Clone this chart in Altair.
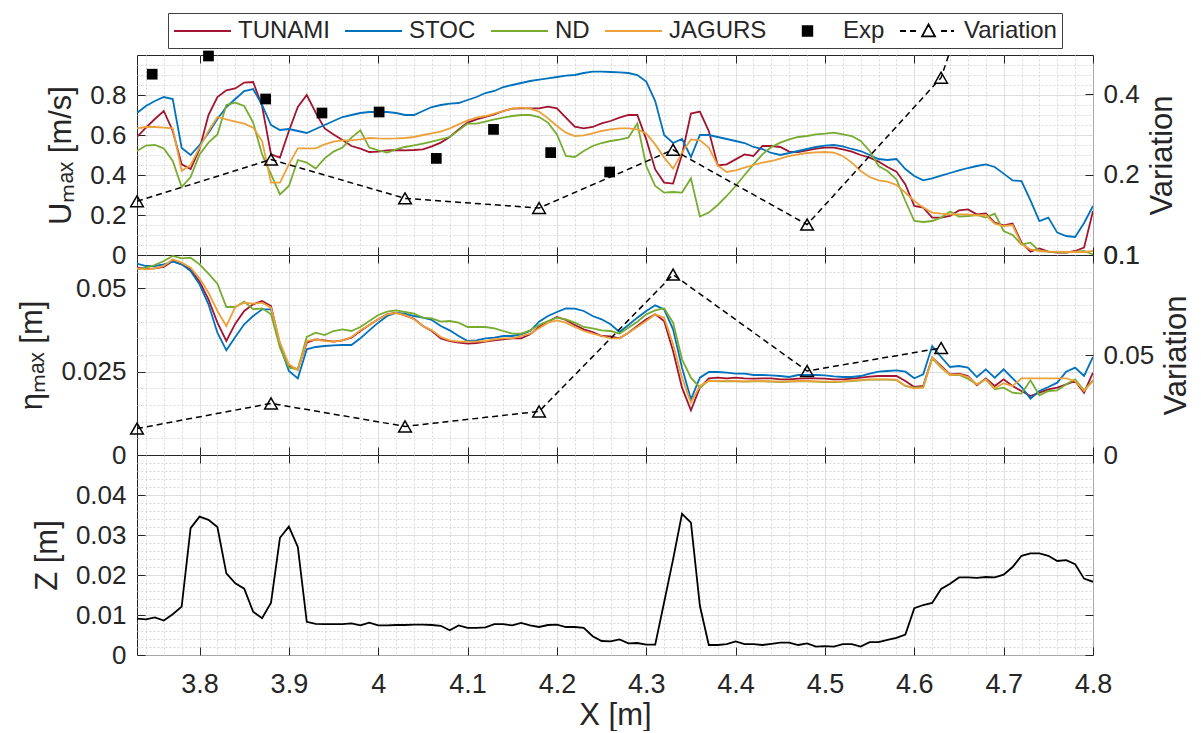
import altair as alt
import pandas as pd

# ---------------- data ----------------
X = [round(3.73 + 0.01 * i, 2) for i in range(108)]
SERIES = ["TUNAMI", "STOC", "ND", "JAGURS"]
COLORS = ["#A2142F", "#0072BD", "#77AC30", "#EDA13A"]

U_TUNAMI = [
    0.590, 0.637, 0.680, 0.720, 0.620, 0.453, 0.430, 0.530, 0.700, 0.790,
    0.823, 0.833, 0.862, 0.865, 0.745, 0.503, 0.487, 0.620, 0.740, 0.800,
    0.712, 0.633, 0.603, 0.575, 0.545, 0.532, 0.515, 0.517, 0.523, 0.525,
    0.523, 0.525, 0.528, 0.543, 0.562, 0.590, 0.628, 0.662, 0.678, 0.690,
    0.703, 0.720, 0.732, 0.733, 0.733, 0.733, 0.742, 0.733, 0.687, 0.642,
    0.633, 0.640, 0.658, 0.670, 0.687, 0.700, 0.700, 0.578, 0.428, 0.362,
    0.357, 0.503, 0.707, 0.717, 0.620, 0.448, 0.453, 0.478, 0.503, 0.495,
    0.545, 0.545, 0.540, 0.517, 0.515, 0.523, 0.532, 0.537, 0.537, 0.528,
    0.517, 0.500, 0.487, 0.467, 0.440, 0.417, 0.353, 0.245, 0.237, 0.187,
    0.187, 0.195, 0.223, 0.228, 0.203, 0.208, 0.162, 0.148, 0.157, 0.062,
    0.017, 0.033, 0.017, 0.012, 0.012, 0.020, 0.037, 0.220]
U_STOC = [
    0.710, 0.745, 0.770, 0.790, 0.780, 0.535, 0.500, 0.550, 0.610, 0.680,
    0.740, 0.780, 0.820, 0.830, 0.750, 0.650, 0.625, 0.630, 0.620, 0.610,
    0.630, 0.650, 0.670, 0.690, 0.700, 0.710, 0.715, 0.715, 0.715, 0.710,
    0.700, 0.700, 0.720, 0.740, 0.750, 0.757, 0.760, 0.775, 0.790, 0.810,
    0.820, 0.840, 0.850, 0.860, 0.870, 0.877, 0.883, 0.890, 0.897, 0.900,
    0.910, 0.917, 0.917, 0.915, 0.913, 0.910, 0.900, 0.867, 0.770, 0.600,
    0.560, 0.580, 0.490, 0.600, 0.600, 0.590, 0.580, 0.570, 0.560, 0.540,
    0.530, 0.510, 0.500, 0.510, 0.520, 0.530, 0.540, 0.547, 0.550, 0.543,
    0.530, 0.520, 0.500, 0.480, 0.475, 0.480, 0.430, 0.395, 0.373, 0.383,
    0.397, 0.410, 0.423, 0.435, 0.445, 0.453, 0.440, 0.407, 0.373, 0.370,
    0.273, 0.170, 0.187, 0.112, 0.095, 0.090, 0.160, 0.245]
U_ND = [
    0.520, 0.547, 0.550, 0.533, 0.470, 0.340, 0.390, 0.503, 0.562, 0.603,
    0.750, 0.762, 0.745, 0.662, 0.503, 0.403, 0.303, 0.345, 0.475, 0.462,
    0.432, 0.483, 0.517, 0.537, 0.587, 0.623, 0.537, 0.523, 0.512, 0.528,
    0.540, 0.548, 0.557, 0.567, 0.578, 0.590, 0.623, 0.657, 0.657, 0.667,
    0.678, 0.687, 0.695, 0.700, 0.700, 0.690, 0.662, 0.603, 0.495, 0.490,
    0.520, 0.545, 0.560, 0.570, 0.577, 0.587, 0.657, 0.445, 0.345, 0.312,
    0.315, 0.312, 0.383, 0.192, 0.212, 0.250, 0.295, 0.345, 0.400, 0.453,
    0.503, 0.540, 0.562, 0.578, 0.590, 0.595, 0.603, 0.607, 0.612, 0.603,
    0.595, 0.570, 0.520, 0.445, 0.420, 0.378, 0.270, 0.170, 0.165, 0.170,
    0.187, 0.217, 0.192, 0.195, 0.200, 0.187, 0.207, 0.120, 0.100, 0.053,
    0.062, 0.020, 0.017, 0.015, 0.012, 0.017, 0.020, 0.003]
U_JAGURS = [
    0.633, 0.640, 0.640, 0.637, 0.633, 0.420, 0.450, 0.537, 0.620, 0.690,
    0.678, 0.667, 0.657, 0.637, 0.570, 0.362, 0.362, 0.453, 0.533, 0.533,
    0.533, 0.553, 0.567, 0.573, 0.573, 0.578, 0.585, 0.583, 0.582, 0.583,
    0.585, 0.590, 0.600, 0.608, 0.617, 0.633, 0.653, 0.673, 0.687, 0.695,
    0.707, 0.720, 0.732, 0.737, 0.732, 0.717, 0.683, 0.645, 0.612, 0.595,
    0.598, 0.608, 0.620, 0.628, 0.633, 0.633, 0.628, 0.607, 0.553, 0.487,
    0.432, 0.512, 0.578, 0.573, 0.537, 0.448, 0.415, 0.423, 0.437, 0.450,
    0.462, 0.470, 0.482, 0.495, 0.503, 0.510, 0.513, 0.515, 0.512, 0.495,
    0.462, 0.420, 0.390, 0.373, 0.367, 0.350, 0.312, 0.270, 0.237, 0.212,
    0.207, 0.203, 0.203, 0.203, 0.198, 0.200, 0.157, 0.145, 0.150, 0.053,
    0.028, 0.020, 0.017, 0.017, 0.015, 0.015, 0.015, 0.020]

E_TUNAMI = [
    0.0562, 0.0559, 0.0560, 0.0564, 0.0582, 0.0572, 0.0557, 0.0520, 0.0467, 0.0397,
    0.0342, 0.0394, 0.0432, 0.0452, 0.0462, 0.0447, 0.0332, 0.0267, 0.0257, 0.0337,
    0.0347, 0.0344, 0.0340, 0.0344, 0.0352, 0.0372, 0.0390, 0.0407, 0.0422, 0.0427,
    0.0419, 0.0409, 0.0387, 0.0372, 0.0350, 0.0342, 0.0337, 0.0334, 0.0336, 0.0340,
    0.0344, 0.0347, 0.0350, 0.0350, 0.0362, 0.0384, 0.0400, 0.0414, 0.0405, 0.0390,
    0.0377, 0.0369, 0.0357, 0.0356, 0.0350, 0.0367, 0.0387, 0.0407, 0.0422, 0.0402,
    0.0312, 0.0202, 0.0134, 0.0202, 0.0230, 0.0232, 0.0230, 0.0232, 0.0230, 0.0229,
    0.0230, 0.0230, 0.0227, 0.0227, 0.0229, 0.0230, 0.0230, 0.0229, 0.0227, 0.0227,
    0.0229, 0.0232, 0.0235, 0.0237, 0.0237, 0.0237, 0.0222, 0.0204, 0.0207, 0.0292,
    0.0267, 0.0242, 0.0244, 0.0237, 0.0209, 0.0230, 0.0207, 0.0227, 0.0207, 0.0192,
    0.0177, 0.0187, 0.0197, 0.0202, 0.0212, 0.0222, 0.0187, 0.0247]
E_STOC = [
    0.0574, 0.0567, 0.0567, 0.0572, 0.0580, 0.0572, 0.0552, 0.0512, 0.0452, 0.0367,
    0.0314, 0.0354, 0.0392, 0.0417, 0.0437, 0.0437, 0.0327, 0.0252, 0.0230, 0.0317,
    0.0324, 0.0327, 0.0329, 0.0330, 0.0330, 0.0350, 0.0374, 0.0397, 0.0417, 0.0426,
    0.0424, 0.0417, 0.0412, 0.0405, 0.0387, 0.0374, 0.0357, 0.0342, 0.0344, 0.0350,
    0.0352, 0.0357, 0.0357, 0.0362, 0.0372, 0.0400, 0.0417, 0.0429, 0.0440, 0.0439,
    0.0432, 0.0417, 0.0407, 0.0392, 0.0369, 0.0390, 0.0412, 0.0432, 0.0449, 0.0437,
    0.0377, 0.0262, 0.0167, 0.0232, 0.0249, 0.0249, 0.0247, 0.0244, 0.0244, 0.0240,
    0.0240, 0.0239, 0.0237, 0.0234, 0.0240, 0.0240, 0.0240, 0.0239, 0.0236, 0.0234,
    0.0234, 0.0237, 0.0244, 0.0250, 0.0252, 0.0254, 0.0250, 0.0230, 0.0242, 0.0327,
    0.0294, 0.0264, 0.0267, 0.0262, 0.0234, 0.0257, 0.0232, 0.0257, 0.0230, 0.0204,
    0.0169, 0.0192, 0.0204, 0.0217, 0.0250, 0.0262, 0.0237, 0.0294]
E_ND = [
    0.0557, 0.0562, 0.0570, 0.0582, 0.0597, 0.0590, 0.0592, 0.0572, 0.0544, 0.0514,
    0.0444, 0.0444, 0.0460, 0.0437, 0.0440, 0.0422, 0.0322, 0.0262, 0.0257, 0.0354,
    0.0367, 0.0360, 0.0372, 0.0377, 0.0372, 0.0384, 0.0402, 0.0420, 0.0430, 0.0434,
    0.0429, 0.0424, 0.0412, 0.0410, 0.0400, 0.0402, 0.0397, 0.0384, 0.0384, 0.0384,
    0.0380, 0.0372, 0.0364, 0.0364, 0.0374, 0.0390, 0.0402, 0.0412, 0.0407, 0.0397,
    0.0384, 0.0380, 0.0374, 0.0372, 0.0364, 0.0382, 0.0400, 0.0422, 0.0434, 0.0440,
    0.0397, 0.0287, 0.0232, 0.0202, 0.0224, 0.0221, 0.0222, 0.0221, 0.0220, 0.0221,
    0.0221, 0.0220, 0.0219, 0.0220, 0.0221, 0.0221, 0.0220, 0.0219, 0.0219, 0.0220,
    0.0222, 0.0224, 0.0226, 0.0226, 0.0226, 0.0225, 0.0207, 0.0202, 0.0204, 0.0290,
    0.0262, 0.0240, 0.0240, 0.0229, 0.0212, 0.0227, 0.0197, 0.0202, 0.0187, 0.0184,
    0.0224, 0.0179, 0.0192, 0.0194, 0.0212, 0.0227, 0.0194, 0.0224]
E_JAGURS = [
    0.0560, 0.0557, 0.0560, 0.0567, 0.0587, 0.0577, 0.0562, 0.0530, 0.0487, 0.0432,
    0.0387, 0.0444, 0.0457, 0.0454, 0.0457, 0.0442, 0.0337, 0.0272, 0.0254, 0.0342,
    0.0347, 0.0342, 0.0340, 0.0344, 0.0354, 0.0374, 0.0390, 0.0407, 0.0422, 0.0426,
    0.0420, 0.0407, 0.0387, 0.0374, 0.0354, 0.0344, 0.0340, 0.0340, 0.0340, 0.0342,
    0.0347, 0.0350, 0.0350, 0.0357, 0.0364, 0.0380, 0.0397, 0.0404, 0.0397, 0.0384,
    0.0372, 0.0364, 0.0357, 0.0350, 0.0350, 0.0367, 0.0384, 0.0402, 0.0422, 0.0412,
    0.0332, 0.0232, 0.0157, 0.0207, 0.0222, 0.0222, 0.0223, 0.0222, 0.0221, 0.0222,
    0.0222, 0.0221, 0.0220, 0.0221, 0.0222, 0.0222, 0.0221, 0.0220, 0.0220, 0.0221,
    0.0223, 0.0225, 0.0227, 0.0227, 0.0227, 0.0226, 0.0207, 0.0200, 0.0202, 0.0292,
    0.0264, 0.0240, 0.0242, 0.0234, 0.0212, 0.0227, 0.0200, 0.0215, 0.0207, 0.0230,
    0.0230, 0.0230, 0.0230, 0.0230, 0.0230, 0.0222, 0.0192, 0.0222]

Z = [
    0.0091, 0.0089, 0.0094, 0.0086, 0.0102, 0.0121, 0.0317, 0.0346, 0.0338, 0.0320,
    0.0204, 0.0179, 0.0166, 0.0108, 0.0092, 0.0131, 0.0293, 0.0321, 0.0270, 0.0083,
    0.0078, 0.0077, 0.0077, 0.0077, 0.0079, 0.0074, 0.0081, 0.0074, 0.0074, 0.0075,
    0.0075, 0.0076, 0.0076, 0.0075, 0.0073, 0.0062, 0.0074, 0.0068, 0.0068, 0.0069,
    0.0077, 0.0077, 0.0074, 0.0080, 0.0074, 0.0070, 0.0075, 0.0076, 0.0070, 0.0070,
    0.0068, 0.0047, 0.0035, 0.0034, 0.0039, 0.0029, 0.0030, 0.0026, 0.0026, 0.0132,
    0.0239, 0.0353, 0.0331, 0.0123, 0.0025, 0.0025, 0.0027, 0.0034, 0.0027, 0.0027,
    0.0025, 0.0028, 0.0031, 0.0031, 0.0025, 0.0029, 0.0021, 0.0022, 0.0021, 0.0027,
    0.0027, 0.0021, 0.0032, 0.0032, 0.0038, 0.0043, 0.0051, 0.0117, 0.0125, 0.0130,
    0.0165, 0.0178, 0.0194, 0.0194, 0.0193, 0.0195, 0.0194, 0.0201, 0.0220, 0.0248,
    0.0254, 0.0254, 0.0248, 0.0235, 0.0237, 0.0227, 0.0191, 0.0183]

EXP_X = [3.747, 3.810, 3.874, 3.937, 4.001, 4.065, 4.129, 4.193, 4.259]
EXP_U = [0.904, 0.995, 0.780, 0.710, 0.715, 0.483, 0.628, 0.512, 0.415]

VAR_X = [3.73, 3.88, 4.03, 4.18, 4.33, 4.48, 4.63, 4.78]
VAR_U = [0.159, 0.228, 0.163, 0.150, 0.248, 0.130, 0.462, 14.5]
VAR_ETA_X = [3.73, 3.88, 4.03, 4.18, 4.33, 4.48, 4.63]
VAR_ETA = [0.0132, 0.0258, 0.0143, 0.0218, 0.0902, 0.0420, 0.0535]

X_TICKS = [3.8, 3.9, 4.0, 4.1, 4.2, 4.3, 4.4, 4.5, 4.6, 4.7, 4.8]
U_TICKS = [0, 0.2, 0.4, 0.6, 0.8]
E_TICKS = [0, 0.025, 0.05]
Z_TICKS = [0, 0.01, 0.02, 0.03, 0.04]
VT_TICKS = [0.1, 0.2, 0.4]
VM_TICKS = [0, 0.05, 0.1]

# ---------------- style ----------------
W, H = 956, 200
FONT = "Liberation Sans"
TXT = "#262626"
LBL = 26
TTL = 31

X_GRID = [round(3.74 + 0.02 * k, 2) for k in range(54)]
U_GRID = [round(0.05 * k, 2) for k in range(20)]
E_GRID = [round(0.005 * k, 3) for k in range(12)]
Z_GRID = [round(0.002 * k, 3) for k in range(25)]

XS = alt.Scale(domain=[3.73, 4.8], nice=False, zero=False)
US = alt.Scale(domain=[0, 1], nice=False)
VTS = alt.Scale(type="log", domain=[0.1, 0.5618], nice=False)
ES = alt.Scale(domain=[0, 0.06], nice=False)
VMS = alt.Scale(domain=[0, 0.1], nice=False)
ZS = alt.Scale(domain=[0, 0.05], nice=False)


def major_test(k):
    return f"abs(datum.value*{k} - round(datum.value*{k})) < 0.001"


def grid_axis(values, k, orient, title=None, labels=False, label_max=None,
              lsize=LBL, lpad=11, tpad=12):
    test = major_test(k)
    d = dict(
        orient=orient, values=values, grid=True, ticks=False, domain=False,
        labels=labels, title=title,
        gridColor={"condition": {"test": test, "value": "#D4D4D4"}, "value": "#D9D9D9"},
        gridDash={"condition": {"test": test, "value": [1, 0]}, "value": [2, 2]},
        gridWidth=1,
    )
    if labels:
        lt = test if label_max is None else f"{test} && datum.value < {label_max}"
        d.update(labelExpr=f"({lt}) ? datum.label : ''", format="~g",
                 labelFontSize=lsize, labelColor=TXT, labelFont=FONT,
                 labelFlush=False, labelOverlap=False, labelPadding=lpad)
    if title:
        d.update(titleFontSize=TTL, titleFont=FONT, titleColor=TXT,
                 titleFontWeight="normal", titlePadding=tpad)
    return alt.Axis(**d)


def tick_axis(orient, values, offset):
    return alt.Axis(orient=orient, offset=offset, values=values, ticks=True,
                    tickSize=8, tickColor=TXT, tickWidth=1, labels=False,
                    domain=False, grid=False, title=None)


def right_axis(values, title):
    return alt.Axis(orient="right", values=values, ticks=False, domain=False,
                    grid=False, labels=True, format="~g", labelFontSize=LBL,
                    labelColor=TXT, labelFont=FONT, labelPadding=10,
                    labelFlush=False, labelOverlap=False, title=title,
                    titleFontSize=TTL, titleFont=FONT, titleColor=TXT,
                    titleFontWeight="normal", titleAngle=270,
                    titleBaseline="top", titlePadding=8)


def series_df(xs, vs):
    return pd.DataFrame({"x": xs, "v": vs})


NOAX = None

# ---------------- top panel ----------------
u_vals = [U_TUNAMI, U_STOC, U_ND, U_JAGURS]
top_axes = [
    (grid_axis(X_GRID, 10, "bottom"), grid_axis(U_GRID, 5, "left", "Uₘₐₓ [m/s]", True, 0.99)),
    (tick_axis("bottom", X_TICKS, -H), tick_axis("right", U_TICKS, -W)),
    (tick_axis("top", X_TICKS, -H), NOAX),
    (NOAX, NOAX),
]
top_layers = []
for (xa, ya), vals, col in zip(top_axes, u_vals, COLORS):
    top_layers.append(
        alt.Chart(series_df(X, vals)).mark_line(color=col, strokeWidth=1.8, clip=True).encode(
            x=alt.X("x:Q", scale=XS, axis=xa),
            y=alt.Y("v:Q", scale=US, axis=ya),
        )
    )
top_layers.append(
    alt.Chart(series_df(EXP_X, EXP_U)).mark_point(shape="square", filled=True, size=115,
                                                   color="black", opacity=1).encode(
        x=alt.X("x:Q", scale=XS, axis=None),
        y=alt.Y("v:Q", scale=US, axis=None),
    )
)
var_top = series_df(VAR_X, VAR_U)
top_layers.append(
    alt.Chart(var_top).mark_line(color="black", strokeWidth=1.5, strokeDash=[6, 4], clip=True).encode(
        x=alt.X("x:Q", scale=XS, axis=None),
        y=alt.Y("v:Q", scale=VTS, axis=right_axis(VT_TICKS, "Variation")),
    )
)
top_layers.append(
    alt.Chart(var_top).transform_filter("datum.v < 0.56").mark_point(
        shape="triangle-up", filled=False, size=160, color="black", strokeWidth=1.5, opacity=1).encode(
        x=alt.X("x:Q", scale=XS, axis=None),
        y=alt.Y("v:Q", scale=VTS, axis=tick_axis("left", VT_TICKS, -W)),
    )
)

# legend carrier layer (invisible marks, visible legend)
LEG_NAMES = SERIES + ["Exp", "Variation"]
LINE_SYM = "M-1,0L3.75,0"
SQ_SYM = "M0.975,-0.4L1.775,-0.4L1.775,0.4L0.975,0.4Z"
VAR_SYM = ("M-1,0L-0.5,0M-0.17,0L0.33,0M0.835,0.45L1.375,-0.55L1.915,0.45Z"
           "M2.42,0L2.92,0M3.25,0L3.5,0")
leg = alt.Legend(orient="none", legendX=31, legendY=-42, direction="horizontal",
                 columns=6, title=None, labelFontSize=24, labelFont=FONT,
                 labelColor=TXT, labelOffset=39, columnPadding=11,
                 symbolSize=576, symbolStrokeWidth=1.8, symbolOpacity=1,
                 padding=5, strokeColor="#404040", fillColor="white")
top_layers.append(
    alt.Chart(pd.DataFrame({"series": LEG_NAMES})).mark_point(opacity=0).encode(
        stroke=alt.Stroke("series:N", scale=alt.Scale(domain=LEG_NAMES, range=COLORS + ["#000000", "#000000"]), legend=leg),
        fill=alt.Fill("series:N", scale=alt.Scale(domain=LEG_NAMES, range=["transparent"] * 4 + ["#000000", "transparent"]), legend=leg),
        shape=alt.Shape("series:N", scale=alt.Scale(domain=LEG_NAMES, range=[LINE_SYM] * 4 + [SQ_SYM, VAR_SYM]), legend=leg),
    )
)
top = alt.layer(*top_layers).resolve_scale(x="independent", y="independent").properties(width=W, height=H)

# ---------------- middle panel ----------------
e_vals = [E_TUNAMI, E_STOC, E_ND, E_JAGURS]
mid_axes = [
    (grid_axis(X_GRID, 10, "bottom"), grid_axis(E_GRID, 40, "left", "ηₘₐₓ [m]", True, 0.059)),
    (tick_axis("bottom", X_TICKS, -H), tick_axis("right", E_TICKS, -W)),
    (tick_axis("top", X_TICKS, -H), NOAX),
    (NOAX, NOAX),
]
mid_layers = []
for (xa, ya), vals, col in zip(mid_axes, e_vals, COLORS):
    mid_layers.append(
        alt.Chart(series_df(X, vals)).mark_line(color=col, strokeWidth=1.8, clip=True).encode(
            x=alt.X("x:Q", scale=XS, axis=xa),
            y=alt.Y("v:Q", scale=ES, axis=ya),
        )
    )
var_mid = series_df(VAR_ETA_X, VAR_ETA)
mid_layers.append(
    alt.Chart(var_mid).mark_line(color="black", strokeWidth=1.5, strokeDash=[6, 4], clip=True).encode(
        x=alt.X("x:Q", scale=XS, axis=None),
        y=alt.Y("v:Q", scale=VMS, axis=right_axis(VM_TICKS, "Variation")),
    )
)
mid_layers.append(
    alt.Chart(var_mid).mark_point(shape="triangle-up", filled=False, size=160, color="black",
                                  strokeWidth=1.5, opacity=1).encode(
        x=alt.X("x:Q", scale=XS, axis=None),
        y=alt.Y("v:Q", scale=VMS, axis=tick_axis("left", VM_TICKS, -W)),
    )
)
mid = alt.layer(*mid_layers).resolve_scale(x="independent", y="independent").properties(width=W, height=H)

# ---------------- bottom panel ----------------
z_df = series_df(X, Z)
bx_main = grid_axis(X_GRID, 10, "bottom", "X [m]", True, lsize=27, lpad=16, tpad=3)
bot_layers = [
    alt.Chart(z_df).mark_line(color="black", strokeWidth=1.8, clip=True).encode(
        x=alt.X("x:Q", scale=XS, axis=bx_main),
        y=alt.Y("v:Q", scale=ZS, axis=grid_axis(Z_GRID, 100, "left", "Z [m]", True, 0.049)),
    ),
    alt.Chart(z_df).mark_line(color="black", opacity=0).encode(
        x=alt.X("x:Q", scale=XS, axis=tick_axis("bottom", X_TICKS, -H)),
        y=alt.Y("v:Q", scale=ZS, axis=tick_axis("right", Z_TICKS, -W)),
    ),
    alt.Chart(z_df).mark_line(color="black", opacity=0).encode(
        x=alt.X("x:Q", scale=XS, axis=tick_axis("top", X_TICKS, -H)),
        y=alt.Y("v:Q", scale=ZS, axis=tick_axis("left", Z_TICKS, -W)),
    ),
]
bot = alt.layer(*bot_layers).resolve_scale(x="independent", y="independent").properties(width=W, height=H)

chart = (
    alt.vconcat(top, mid, bot, spacing=0, bounds="flush")
    .resolve_scale(x="independent", y="independent")
    .properties(padding={"left": 16, "top": 12, "right": 0, "bottom": 0})
    .configure(font=FONT)
    .configure_view(stroke=TXT, strokeWidth=1)
)

chart.save("out.html", embed_options={"renderer": "svg", "actions": False})
